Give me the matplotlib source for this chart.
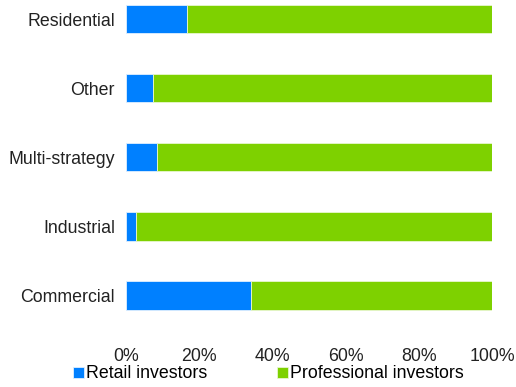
import matplotlib.pyplot as plt
from matplotlib.ticker import PercentFormatter

# shares of NAV by investor type (%)
categories = ['Commercial', 'Industrial', 'Multi-strategy', 'Other', 'Residential']
retail = [34.2, 2.7, 8.5, 7.3, 16.7]
professional = [100 - r for r in retail]

plt.rcParams['font.family'] = ['Liberation Sans', 'DejaVu Sans']

fig = plt.figure(figsize=(5.16, 3.87), dpi=100)
ax = fig.add_axes([126 / 516, 57 / 387, 366 / 516, 330 / 387])

blue = '#0080FF'
green = '#7ED100'

ax.barh(categories, retail, height=0.41, color=blue, edgecolor='#dff0ff',
        linewidth=0.6, label='Retail investors')
ax.barh(categories, professional, left=retail, height=0.41, color=green,
        edgecolor='#e8f7d0', linewidth=0.6, label='Professional investors')

ax.set_xlim(0, 100)
ax.set_ylim(-0.5, 4.275)
ax.set_xticks([0, 20, 40, 60, 80, 100])
ax.xaxis.set_major_formatter(PercentFormatter(decimals=0))
ax.tick_params(axis='both', length=0, labelsize=12.8, colors='#222222')
ax.tick_params(axis='x', pad=13)
ax.tick_params(axis='y', pad=8)
for s in ax.spines.values():
    s.set_visible(False)

fig.legend(loc='center left', bbox_to_anchor=(73 / 516, 13 / 387), ncol=2,
           frameon=False, fontsize=12.8, handlelength=0.6, handleheight=0.6,
           handletextpad=0.15, columnspacing=3.9, borderpad=0, borderaxespad=0)

fig.savefig('out.png', dpi=100)
